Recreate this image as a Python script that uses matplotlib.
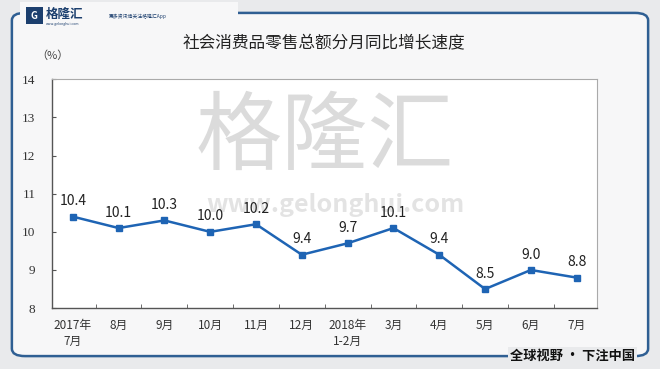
import matplotlib
matplotlib.use("Agg")
import matplotlib.pyplot as plt
from matplotlib.patches import FancyBboxPatch, Rectangle
import numpy as np

months = ["2017年\n7月", "8月", "9月", "10月", "11月", "12月", "2018年\n1-2月",
          "3月", "4月", "5月", "6月", "7月"]
growth = [10.4, 10.1, 10.3, 10.0, 10.2, 9.4, 9.7, 10.1, 9.4, 8.5, 9.0, 8.8]
yticks = [8, 9, 10, 11, 12, 13, 14]

plt.rcParams["font.family"] = ["Noto Sans CJK SC", "DejaVu Sans"]

fig = plt.figure(figsize=(6.6, 3.69), dpi=100)
fig.patch.set_facecolor("#e9eaec")

# frame with blue border
frame = FancyBboxPatch((0.018, 0.035), 0.964, 0.93, boxstyle="round,pad=0,rounding_size=0.02",
                       transform=fig.transFigure, facecolor="#f7f7f8",
                       edgecolor="#2f5f93", linewidth=1.8, zorder=-5)
fig.patches.append(frame)

# logo / slogan
logo_bg = Rectangle((0.03, 0.925), 0.33, 0.07, transform=fig.transFigure,
                    facecolor="#f7f7f8", edgecolor="none", zorder=-4)
fig.patches.append(logo_bg)
logo = Rectangle((0.04, 0.935), 0.025, 0.045, transform=fig.transFigure,
                 facecolor="#1c3f6e", edgecolor="none", zorder=-3)
fig.patches.append(logo)
fig.text(0.052, 0.957, "G", fontsize=7, fontweight="bold", color="white",
         ha="center", va="center")
fig.text(0.07, 0.962, "格隆汇", fontsize=9, fontweight="bold", color="#1c3f6e", va="center")
fig.text(0.07, 0.935, "www.gelonghui.com", fontsize=2.5, color="#1c3f6e", va="center")
fig.text(0.165, 0.955, "更多资讯请关注格隆汇App", fontsize=3.5, color="#1c3f6e", va="center")
fig.text(0.962, 0.035, "全球视野 • 下注中国", fontsize=9.5, fontweight="bold", color="#111111",
         ha="right", va="center",
         bbox=dict(facecolor="#e9eaec", edgecolor="none", pad=1.5))

ax = fig.add_axes([0.079, 0.165, 0.826, 0.62])
ax.set_zorder(2)
ax.set_facecolor("white")
x = np.arange(len(months))
ax.plot(x, growth, color="#1e64b4", linewidth=1.8, marker="s", markersize=5, zorder=3)
for xi, v in zip(x, growth):
    ax.text(xi, v + 0.22, f"{v:.1f}", ha="center", va="bottom", fontsize=10, color="#222222")

ax.set_xlim(-0.45, len(months) - 0.55)
ax.set_ylim(8, 14)
ax.set_yticks(yticks)
ax.set_yticklabels([str(t) for t in yticks], family=["Liberation Serif"], fontsize=9.5,
                   color="#333333")
ax.set_xticks(x)
ax.set_xticklabels(months, fontsize=8.5, color="#333333", linespacing=1.3)
ax.set_xticks(x[:-1] + 0.5, minor=True)
ax.tick_params(axis="x", which="major", length=0, pad=8)
ax.tick_params(axis="x", which="minor", direction="in", length=3, color="#555555")
ax.tick_params(axis="y", direction="in", length=3, color="#555555", pad=12)
for side in ["left", "bottom"]:
    ax.spines[side].set_color("#555555")
    ax.spines[side].set_linewidth(1.0)
for side in ["top", "right"]:
    ax.spines[side].set_color("#aaaaaa")
    ax.spines[side].set_linewidth(0.8)

# watermark
ax.text(0.5, 0.74, "格隆汇", transform=ax.transAxes, fontsize=62, color="#b0b0b0",
        alpha=0.45, ha="center", va="center", zorder=1)
ax.text(0.52, 0.45, "www.gelonghui.com", transform=ax.transAxes, fontsize=18, color="#b0b0b0",
        alpha=0.35, ha="center", va="center", fontweight="bold", zorder=1)

fig.text(0.055, 0.84, "（%）", fontsize=8, color="#444444")
fig.text(0.49, 0.88, "社会消费品零售总额分月同比增长速度", fontsize=12, color="#222222",
         ha="center", va="center")

fig.savefig("out.png", dpi=100, facecolor=fig.get_facecolor())
